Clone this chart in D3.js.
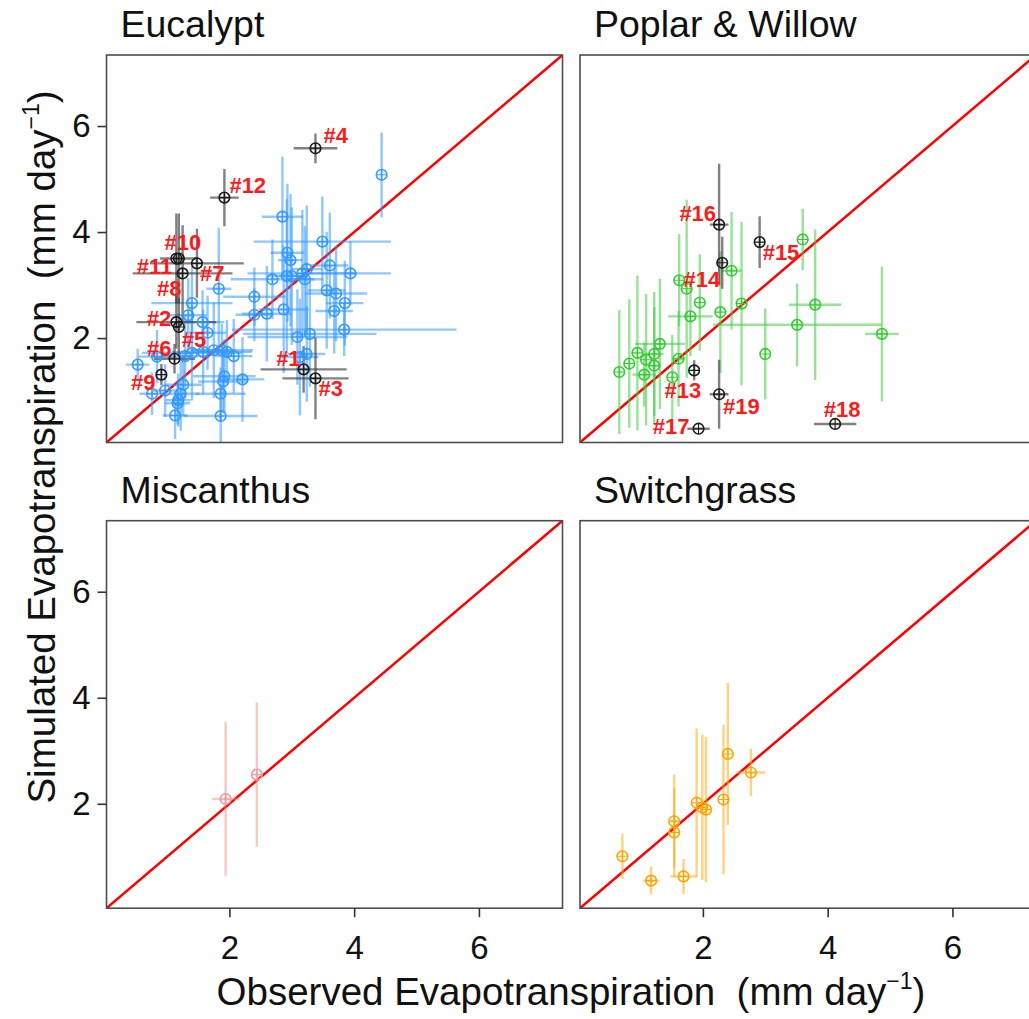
<!DOCTYPE html>
<html><head><meta charset="utf-8">
<script src="https://cdn.jsdelivr.net/npm/d3@7"></script>
<style>body{margin:0;background:#fff} svg{display:block}</style>
</head><body>
<script>
// ---------- DATA ----------
const panelTitles = ["Eucalypt", "Poplar & Willow", "Miscanthus", "Switchgrass"];
const xTicks = [2, 4, 6];
const yTicks = [2, 4, 6];
const xAxisTitle = "Observed Evapotranspiration  (mm day";
const yAxisTitle = "Simulated Evapotranspiration  (mm day";

// [observed, simulated, observed error, simulated error]
const eucalyptPoints = [
 [4.44,5.08,0.00,0.80],[2.85,4.29,0.33,1.13],[3.49,3.82,1.10,0.85],[2.93,3.61,0.27,1.30],
 [2.98,3.47,0.20,1.25],[3.61,3.37,0.30,1.00],[3.24,3.30,0.25,1.20],[3.17,3.22,0.88,1.20],
 [3.94,3.22,0.65,0.60],[2.92,3.17,0.30,1.45],[3.00,3.17,0.20,1.30],[3.21,3.11,0.30,1.00],
 [2.69,3.11,0.67,0.75],[1.83,2.93,0.20,1.15],[3.56,2.90,0.30,1.10],[3.71,2.84,0.50,0.90],
 [2.40,2.78,0.50,0.55],[3.85,2.66,0.30,0.80],[1.40,2.66,0.65,0.70],[2.87,2.54,0.40,1.20],
 [3.68,2.51,0.30,0.80],[1.34,2.43,0.30,0.70],[2.60,2.46,0.40,0.90],[2.40,2.44,0.30,0.50],
 [1.57,2.30,0.35,0.60],[1.65,2.10,0.30,0.70],[3.84,2.16,1.80,0.50],[3.29,2.08,1.07,1.00],
 [3.09,2.02,0.80,0.90],[1.40,1.72,0.80,0.90],[1.58,1.74,0.50,0.80],[1.75,1.77,0.35,0.90],
 [1.96,1.74,0.40,0.60],[2.07,1.66,0.30,0.70],[1.88,1.77,0.50,0.50],[3.24,1.70,0.30,0.90],
 [3.13,1.64,0.30,1.10],[0.53,1.50,0.19,0.30],[0.84,1.65,0.30,0.50],[1.29,1.66,0.40,0.80],
 [1.92,1.28,0.50,0.70],[1.90,1.18,0.40,0.60],[2.21,1.22,0.35,0.80],[1.26,1.12,0.30,0.60],
 [0.97,1.01,0.20,0.50],[0.76,0.95,0.20,0.40],[1.22,0.95,0.30,0.70],[1.18,0.83,0.20,0.50],
 [1.17,0.77,0.20,0.40],[1.86,0.95,0.40,0.50],[1.13,0.54,0.20,0.45],[1.86,0.53,0.59,0.60]
];
// [label, observed, simulated, observed error, simulated error]
const eucalyptFlagged = [
 ["#1",3.19,1.41,0.69,0.44],["#2",1.15,2.30,0.64,0.50],["#3",3.38,1.24,0.53,0.77],
 ["#4",3.38,5.58,0.35,0.28],["#5",1.19,2.21,0.00,0.55],["#6",1.12,1.61,0.33,0.28],
 ["#7",1.48,3.41,0.75,0.65],["#8",1.25,3.22,0.80,0.91],["#9",0.91,1.31,0.00,0.20],
 ["#10",1.19,3.50,0.30,0.85],["#11",1.15,3.50,0.00,0.85],["#12",1.92,4.65,0.23,0.54]
];
const poplarPoints = [
 [3.60,3.86,0.00,0.58],[2.46,3.27,0.16,1.11],[1.62,3.09,0.00,0.87],[1.74,2.93,0.00,1.68],
 [1.95,2.67,0.00,0.91],[1.80,2.41,0.36,0.75],[2.28,2.49,0.00,1.15],[2.62,2.65,0.00,1.54],
 [3.51,2.25,1.35,0.78],[3.80,2.63,0.42,1.42],[4.87,2.08,0.27,1.27],[3.00,1.70,0.00,0.86],
 [1.31,1.89,0.40,1.23],[0.95,1.72,0.00,1.46],[1.09,1.59,0.00,1.24],[1.22,1.70,0.15,1.17],
 [1.22,1.48,0.10,1.10],[0.82,1.52,0.00,1.21],[0.66,1.36,0.00,1.17],[1.06,1.31,0.19,0.60],
 [1.51,1.26,0.00,0.80],[1.61,1.61,0.10,0.90]
];
const poplarFlagged = [
 ["#13",1.86,1.39,0.00,0.19],["#14",2.31,3.42,0.00,0.49],["#15",2.91,3.81,0.00,0.49],
 ["#16",2.26,4.14,0.15,1.15],["#17",1.93,0.29,0.18,0.00],["#18",4.12,0.38,0.34,0.00],
 ["#19",2.26,0.94,0.15,0.65]
];
const miscanthusPoints = [[1.94,2.09,0.22,1.45],[2.44,2.55,0.00,1.36]];
const switchgrassPoints = [
 [0.71,1.01,0.00,0.43],[1.17,0.55,0.13,0.26],[1.54,1.67,0.05,0.88],[1.54,1.46,0.00,0.83],
 [1.69,0.63,0.21,0.33],[1.90,2.02,0.00,1.40],[1.99,1.93,0.00,1.37],[2.05,1.89,0.00,1.37],
 [2.33,2.08,0.00,1.41],[2.40,2.94,0.00,1.34],[2.77,2.59,0.23,0.45]
];

// ---------- LAYOUT / STYLE ----------
const labelOffsets = {
 "#1":[-3,-3,"end"],"#2":[-5,4,"end"],"#3":[3,18,"start"],"#4":[8,-5,"start"],
 "#5":[3,20,"start"],"#6":[-3,-3,"end"],"#7":[3,18,"start"],"#8":[-1,23,"end"],
 "#9":[-6,15,"end"],"#10":[4,-9,"middle"],"#11":[-4,15,"end"],"#12":[5,-5,"start"],
 "#13":[7,28,"end"],"#14":[-2,24,"end"],"#15":[3,18,"start"],"#16":[-3,-4,"end"],
 "#17":[-9,5,"end"],"#18":[7,-7,"middle"],"#19":[4,20,"start"]
};
const W = 1029, H = 1019;
const panelW = 456, panelH = 387.5;
const domain = [0.03, 7.34];
const FONT = "'Liberation Sans', Arial, sans-serif";
const R = 5.3;

const panels = [
 {title: panelTitles[0], left:106.5, top:55, pts:eucalyptPoints, flag:eucalyptFlagged,
  circ:"#3399ff", bar:"#3399ff", barOp:0.55, yAxis:true, xAxis:false},
 {title: panelTitles[1], left:580, top:55, pts:poplarPoints, flag:poplarFlagged,
  circ:"#33cc33", bar:"#44cc44", barOp:0.55, yAxis:false, xAxis:false},
 {title: panelTitles[2], left:106.5, top:520.7, pts:miscanthusPoints, flag:[],
  circ:"#f29a9a", bar:"#f08080", barOp:0.45, yAxis:true, xAxis:true},
 {title: panelTitles[3], left:580, top:520.7, pts:switchgrassPoints, flag:[],
  circ:"#ffa500", bar:"#ffab1a", barOp:0.55, yAxis:false, xAxis:true}
];

const svg = d3.select("body").append("svg").attr("width", W).attr("height", H)
  .style("font-family", FONT);

function drawBars(layer, data, x, y, color, op, width, off) {
  data.forEach(d => {
    const [px, py, ex, ey] = d.slice(off);
    if (ey > 0) layer.append("line").attr("x1", x(px)).attr("x2", x(px))
      .attr("y1", y(py - ey)).attr("y2", y(py + ey))
      .attr("stroke", color).attr("stroke-opacity", op).attr("stroke-width", width);
    if (ex > 0) layer.append("line").attr("y1", y(py)).attr("y2", y(py))
      .attr("x1", x(px - ex)).attr("x2", x(px + ex))
      .attr("stroke", color).attr("stroke-opacity", op).attr("stroke-width", width);
  });
}

function drawMarkers(layer, data, x, y, color, off) {
  data.forEach(d => {
    const cx = x(d[off]), cy = y(d[off + 1]);
    const m = layer.append("g").attr("stroke", color).attr("fill", "none");
    m.append("circle").attr("cx", cx).attr("cy", cy).attr("r", R).attr("stroke-width", 1.6);
    m.append("line").attr("x1", cx - R).attr("x2", cx + R).attr("y1", cy).attr("y2", cy)
      .attr("stroke-width", 1.1);
    m.append("line").attr("x1", cx).attr("x2", cx).attr("y1", cy - R).attr("y2", cy + R)
      .attr("stroke-width", 1.1);
  });
}

panels.forEach((p, i) => {
  const g = svg.append("g").attr("transform", `translate(${p.left},${p.top})`);
  const x = d3.scaleLinear().domain(domain).range([0, panelW]);
  const y = d3.scaleLinear().domain(domain).range([panelH, 0]);

  svg.append("clipPath").attr("id", "clip" + i).append("rect")
    .attr("width", panelW).attr("height", panelH);
  const plot = g.append("g").attr("clip-path", `url(#clip${i})`);

  // 1:1 line
  plot.append("line").attr("x1", x(0)).attr("y1", y(0)).attr("x2", x(8)).attr("y2", y(8))
    .attr("stroke", "#ff0000").attr("stroke-width", 2.5);

  // error bars
  drawBars(plot, p.pts, x, y, p.bar, p.barOp, 2.4, 0);
  drawBars(plot, p.flag, x, y, "#333333", 0.62, 2.4, 1);

  // markers (circle with plus)
  drawMarkers(plot, p.pts, x, y, p.circ, 0);
  drawMarkers(plot, p.flag, x, y, "#1a1a1a", 1);

  // labels
  plot.selectAll("text.lab").data(p.flag).enter().append("text")
    .attr("x", d => x(d[1]) + labelOffsets[d[0]][0])
    .attr("y", d => y(d[2]) + labelOffsets[d[0]][1])
    .attr("text-anchor", d => labelOffsets[d[0]][2])
    .attr("fill", "#ff1a1a").attr("font-size", 22).attr("font-weight", "bold")
    .text(d => d[0]);

  // border
  g.append("rect").attr("width", panelW).attr("height", panelH)
    .attr("fill", "none").attr("stroke", "#4d4d4d").attr("stroke-width", 1.6);

  // title
  g.append("text").attr("x", 14).attr("y", -18).attr("font-size", 37.5)
    .attr("fill", "#111").text(p.title);

  if (p.yAxis) {
    const ax = g.append("g").call(d3.axisLeft(y).tickValues(yTicks).tickSize(9).tickPadding(7)
      .tickFormat(d3.format("d")));
    ax.select(".domain").remove();
    ax.selectAll("line").attr("stroke", "#333").attr("stroke-width", 1.6);
    ax.selectAll("text").attr("font-size", 33).attr("fill", "#111").style("font-family", FONT);
  }
  if (p.xAxis) {
    const ax = g.append("g").attr("transform", `translate(0,${panelH})`)
      .call(d3.axisBottom(x).tickValues(xTicks).tickSize(9).tickPadding(18)
      .tickFormat(d3.format("d")));
    ax.select(".domain").remove();
    ax.selectAll("line").attr("stroke", "#333").attr("stroke-width", 1.6);
    ax.selectAll("text").attr("font-size", 33).attr("fill", "#111").style("font-family", FONT);
  }
});

// axis titles
const xt = svg.append("text").attr("x", 571).attr("y", 1005).attr("text-anchor", "middle")
  .attr("font-size", 38.5).attr("fill", "#111").style("white-space", "pre");
xt.append("tspan").text(xAxisTitle);
xt.append("tspan").attr("font-size", 23).attr("dy", -16).text("\u22121");
xt.append("tspan").attr("dy", 16).text(")");

const yt = svg.append("text").attr("transform", "translate(55,447) rotate(-90)")
  .attr("text-anchor", "middle").attr("font-size", 38.5).attr("fill", "#111")
  .style("white-space", "pre");
yt.append("tspan").text(yAxisTitle);
yt.append("tspan").attr("font-size", 23).attr("dy", -16).text("\u22121");
yt.append("tspan").attr("dy", 16).text(")");
</script>
</body></html>
